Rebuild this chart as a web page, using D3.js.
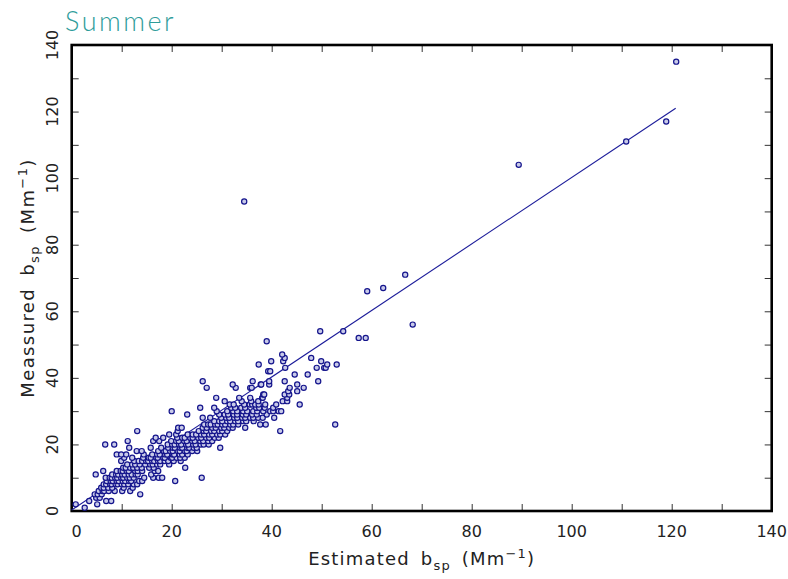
<!DOCTYPE html>
<html>
<head>
<meta charset="utf-8">
<script src="https://cdn.jsdelivr.net/npm/d3@7"></script>
<style>
  html, body { margin: 0; padding: 0; background: #fff; }
  #chart { width: 788px; height: 579px; }
  text { font-family: "DejaVu Sans", sans-serif; }
</style>
</head>
<body>
<div id="chart"></div>
<script>
// tick marks every 10, labels every 20
const minorTicks = [0, 10, 20, 30, 40, 50, 60, 70, 80, 90, 100, 110, 120, 130, 140];
const tickLabels = [0, 20, 40, 60, 80, 100, 120, 140];

const pointRows = [
    [1, [2.6]],
    [2, [0.8, 5.1]],
    [3, [3.5, 6.9, 7.9]],
    [4, [4.9, 5.6]],
    [5, [4.6, 5.2, 6.0, 13.7]],
    [6, [5.4, 6.2, 6.5, 7.4, 8.6, 10.1, 11.7]],
    [7, [5.9, 6.4, 7.3, 8.1, 10.4, 12.2]],
    [8, [6.4, 6.9, 7.7, 8.0, 8.8, 9.2, 10.0, 10.5, 11.3, 12.4, 13.1]],
    [9, [7.0, 7.8, 8.2, 9.0, 9.4, 10.2, 10.7, 11.5, 11.9, 13.5, 14.1, 20.7]],
    [10, [6.8, 7.6, 8.0, 8.7, 9.1, 9.9, 10.3, 11.1, 11.6, 12.4, 14.5, 16.3, 17.4, 18.1, 26.0]],
    [11, [4.8, 8.1, 8.9, 9.3, 10.1, 10.6, 11.4, 12.0, 12.8, 13.2, 15.9]],
    [12, [6.3, 9.0, 9.8, 10.2, 11.0, 11.4, 12.7, 13.2, 14.1, 16.6, 17.3]],
    [13, [10.3, 10.8, 11.7, 12.3, 13.1, 14.0, 15.5, 16.4, 22.7]],
    [14, [11.1, 12.1, 12.7, 13.6, 14.7, 15.7, 16.2, 17.1, 17.7, 19.5]],
    [15, [9.9, 12.5, 13.4, 14.1, 14.9, 15.3, 16.1, 16.5, 17.3, 17.7, 18.6, 19.3, 20.4, 21.8]],
    [16, [10.5, 12.1, 14.3, 15.4, 15.8, 16.9, 17.2, 18.3, 18.6, 19.8, 20.1, 21.0, 21.7, 22.6]],
    [17, [9.0, 9.9, 10.9, 14.4, 16.1, 17.1, 17.6, 18.7, 19.1, 20.2, 20.5, 21.6, 22.1, 23.2]],
    [18, [13.0, 14.0, 17.3, 18.4, 18.8, 19.7, 20.2, 21.2, 21.6, 22.6, 23.0, 24.1, 25.1]],
    [19, [11.5, 15.8, 17.9, 19.3, 20.2, 20.6, 21.7, 22.1, 23.1, 23.5, 24.4, 25.0, 29.7]],
    [20, [6.7, 8.5, 19.2, 20.1, 20.6, 21.5, 21.9, 22.9, 23.3, 24.3, 24.8, 25.8, 26.4, 27.4]],
    [21, [11.2, 16.3, 17.5, 19.9, 20.9, 21.4, 22.5, 23.0, 24.1, 24.6, 25.7, 26.3, 27.3, 28.1]],
    [22, [16.8, 18.3, 21.1, 22.1, 22.6, 23.7, 24.2, 25.3, 25.9, 26.9, 27.5, 28.6, 29.4]],
    [23, [19.5, 20.9, 23.2, 24.2, 24.9, 25.9, 26.5, 27.5, 28.1, 29.1, 29.7, 30.7]],
    [24, [13.1, 21.2, 25.4, 26.4, 26.9, 27.9, 28.5, 29.5, 30.1, 31.1, 41.7]],
    [25, [21.3, 22.0, 26.2, 27.0, 28.1, 28.8, 29.9, 30.5, 31.5, 32.2, 34.7]],
    [26, [26.5, 27.3, 27.8, 28.7, 29.2, 30.1, 30.7, 31.7, 32.3, 33.3, 37.7, 38.8, 52.7]],
    [27, [28.5, 29.5, 30.1, 31.1, 31.7, 32.7, 33.3, 34.3, 34.9, 36.4]],
    [28, [26.2, 27.7, 29.9, 30.9, 31.5, 32.5, 33.1, 34.1, 34.7, 35.7, 36.3, 37.3, 38.2, 40.5]],
    [29, [23.1, 29.5, 30.6, 31.3, 32.4, 33.1, 34.2, 34.9, 36.1, 37.0, 39.0]],
    [30, [20.0, 29.0, 31.1, 32.3, 33.1, 34.3, 35.1, 36.3, 37.1, 38.3, 39.7, 40.3, 41.4, 41.9]],
    [31, [25.7, 28.5, 31.9, 32.7, 33.9, 34.7, 36.9, 37.5, 38.6, 40.3]],
    [32, [31.6, 32.4, 34.5, 35.6, 36.1, 36.7, 37.4, 38.7, 40.9, 45.6]],
    [33, [30.6, 34.0, 35.9, 37.3, 42.2, 43.1]],
    [34, [28.9, 33.5, 35.7, 38.1, 38.2, 43.1]],
    [35, [38.3, 38.5, 42.6, 43.5]],
    [36, [43.3, 45.1]],
    [37, [27.0, 32.8, 35.7, 36.0, 43.6, 46.4]],
    [38, [32.2, 37.8, 37.9, 39.5, 45.1]],
    [39, [26.2, 36.2, 39.5, 42.6, 49.3]],
    [41, [44.6, 47.2]],
    [42, [39.3, 39.7]],
    [43, [42.7, 49.0, 50.5, 50.8]],
    [44, [37.4, 51.1, 53.0]],
    [45, [39.9, 42.3, 49.9]],
    [46, [42.6, 47.9]],
    [47, [42.1]],
    [51, [39.0]],
    [52, [57.4, 58.8]],
    [54, [49.7, 54.3]],
    [56, [68.2]],
    [66, [59.1]],
    [67, [62.3]],
    [71, [66.7]],
    [93, [34.5]],
    [104, [89.4]],
    [111, [110.9]],
    [117, [118.9]],
    [135, [120.9]]
];

// least-squares line end points (estimated, measured)
const fitLine = [[0, 0.3], [120.8, 121.0]];

const points = [];
pointRows.forEach(([m, list]) => list.forEach(e => points.push({ est: e, meas: m })));

const W = 788, H = 579;
const margin = { top: 45, right: 16.3, bottom: 68, left: 71.7 };

const svg = d3.select("#chart").append("svg")
    .attr("width", W)
    .attr("height", H);

const x = d3.scaleLinear().domain([0, 140]).range([margin.left, W - margin.right]);
const y = d3.scaleLinear().domain([0, 140]).range([H - margin.bottom, margin.top]);

// inward ticks on all four sides
const tickStyle = g => {
    g.select(".domain").remove();
    g.selectAll(".tick line").attr("stroke", "#333").attr("stroke-width", 1);
};
svg.append("g").attr("transform", `translate(0,${y(0)})`)
    .call(d3.axisBottom(x).tickValues(minorTicks).tickSize(-7).tickFormat("")).call(tickStyle);
svg.append("g").attr("transform", `translate(0,${y(140)})`)
    .call(d3.axisTop(x).tickValues(minorTicks).tickSize(-7).tickFormat("")).call(tickStyle);
svg.append("g").attr("transform", `translate(${x(0)},0)`)
    .call(d3.axisLeft(y).tickValues(minorTicks).tickSize(-7).tickFormat("")).call(tickStyle);
svg.append("g").attr("transform", `translate(${x(140)},0)`)
    .call(d3.axisRight(y).tickValues(minorTicks).tickSize(-7).tickFormat("")).call(tickStyle);

// tick labels
svg.append("g").selectAll("text")
    .data(tickLabels)
    .enter().append("text")
    .attr("x", d => x(d) + (d === 0 ? 5 : 0))
    .attr("y", y(0) + 26)
    .attr("text-anchor", "middle")
    .style("font-size", "16px")
    .style("fill", "#222")
    .text(d => d);

svg.append("g").selectAll("text")
    .data(tickLabels)
    .enter().append("text")
    .attr("transform", d => `translate(${x(0) - 14},${y(d)}) rotate(-90)`)
    .attr("text-anchor", "middle")
    .style("font-size", "16px")
    .style("fill", "#222")
    .text(d => d);

// frame
svg.append("rect")
    .attr("x", x(0)).attr("y", y(140))
    .attr("width", x(140) - x(0)).attr("height", y(0) - y(140))
    .attr("fill", "none")
    .attr("stroke", "#000")
    .attr("stroke-width", 2.6);

// fitted line
svg.append("path")
    .datum(fitLine)
    .attr("d", d3.line().x(d => x(d[0])).y(d => y(d[1])))
    .attr("fill", "none")
    .attr("stroke", "#1c1c9a")
    .attr("stroke-width", 1.1);

// points
svg.append("g").selectAll("circle")
    .data(points)
    .enter().append("circle")
    .attr("cx", d => x(d.est))
    .attr("cy", d => y(d.meas))
    .attr("r", 2.6)
    .attr("fill", "#c8cae9")
    .attr("stroke", "#14148c")
    .attr("stroke-width", 1.2);

// title
svg.append("text")
    .attr("x", 65).attr("y", 31)
    .style("font-family", "Lato, sans-serif")
    .style("font-weight", 300)
    .style("font-size", "27px")
    .style("letter-spacing", "2.5px")
    .style("fill", "#2e9c9a")
    .text("Summer");

// axis titles
const xt = svg.append("text")
    .attr("x", (x(0) + x(140)) / 2)
    .attr("y", 565)
    .attr("text-anchor", "middle")
    .style("font-size", "18px")
    .style("letter-spacing", "1.2px")
    .style("word-spacing", "4px")
    .style("fill", "#222");
xt.append("tspan").text("Estimated b");
xt.append("tspan").attr("dy", 5).style("font-size", "13px").text("sp");
xt.append("tspan").attr("dy", -5).text(" (Mm");
xt.append("tspan").attr("dy", -7).style("font-size", "13px").text("\u22121");
xt.append("tspan").attr("dy", 7).text(")");

const yt = svg.append("text")
    .attr("transform", `translate(34,${(y(0) + y(140)) / 2}) rotate(-90)`)
    .attr("text-anchor", "middle")
    .style("font-size", "18px")
    .style("letter-spacing", "1.4px")
    .style("word-spacing", "5px")
    .style("fill", "#222");
yt.append("tspan").text("Meassured b");
yt.append("tspan").attr("dy", 5).style("font-size", "13px").text("sp");
yt.append("tspan").attr("dy", -5).text(" (Mm");
yt.append("tspan").attr("dy", -7).style("font-size", "13px").text("\u22121");
yt.append("tspan").attr("dy", 7).text(")");
</script>
</body>
</html>
